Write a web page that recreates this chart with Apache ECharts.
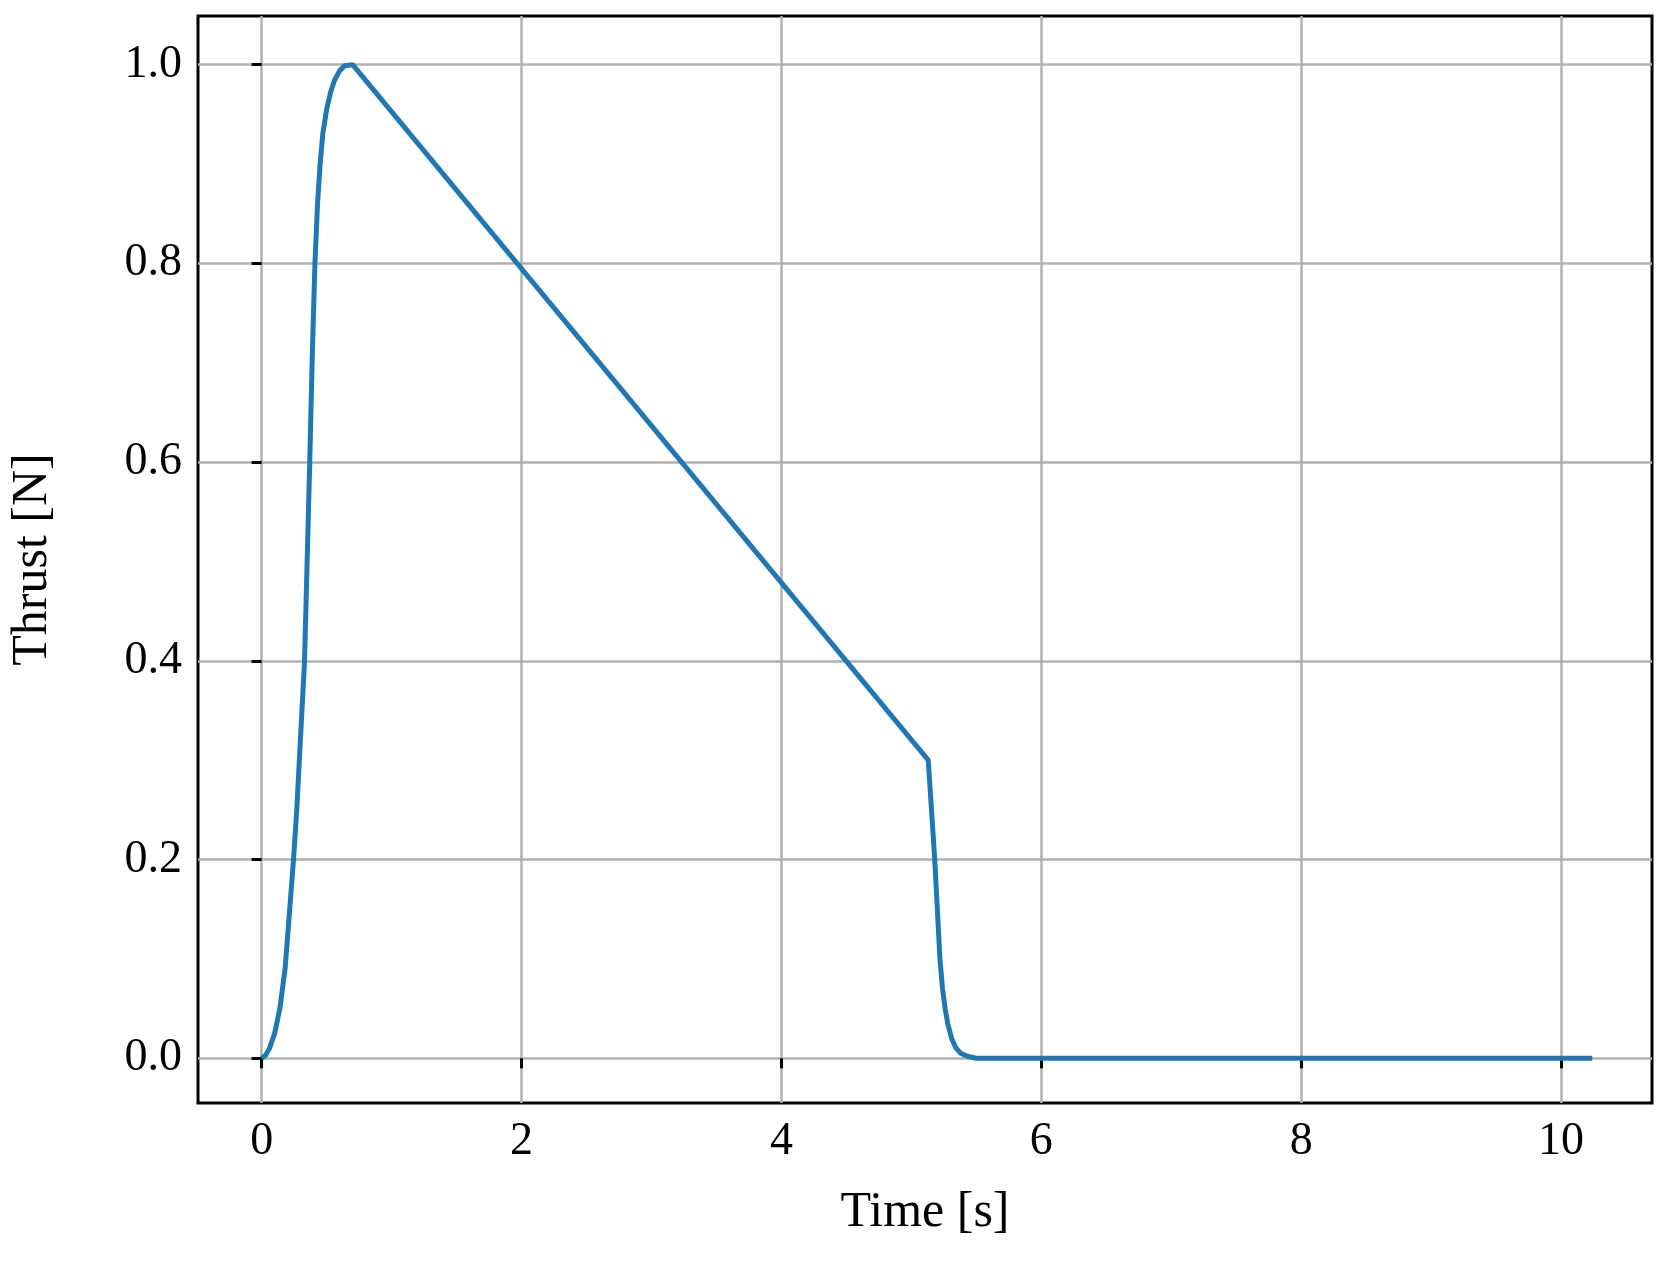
<!DOCTYPE html><html><head><meta charset="utf-8"><script src="https://cdn.jsdelivr.net/npm/echarts@6/dist/echarts.min.js"></script>
<style>html,body{margin:0;background:#fff}#c{width:1671px;height:1262px}</style></head><body><div id="c"></div><script>
const timeS=[0,0.03,0.06,0.1,0.14,0.18,0.21,0.245,0.27,0.29,0.31,0.33,0.35,0.37,0.39,0.41,0.43,0.45,0.47,0.5,0.53,0.56,0.6,0.64,0.7,5.13,5.14,5.16,5.18,5.2,5.22,5.24,5.26,5.28,5.31,5.34,5.38,5.43,5.5,10.24];
const thrustN=[0,0.003,0.01,0.025,0.05,0.09,0.14,0.2,0.25,0.3,0.35,0.4,0.5,0.6,0.71,0.8,0.86,0.9,0.93,0.955,0.972,0.984,0.994,0.999,1.0,0.3,0.28,0.24,0.2,0.15,0.1,0.07,0.05,0.035,0.02,0.011,0.005,0.002,0,0];
const xTicks=[0,2,4,6,8,10];
const yTicks=[0,0.2,0.4,0.6,0.8,1.0];
const ch=echarts.init(document.getElementById('c'));
const font='Liberation Serif';
const tick={show:true,inside:false,length:10,lineStyle:{color:'#000',width:3}};
ch.setOption({animation:false,
grid:{left:191,right:19,top:16,bottom:159,show:true,borderColor:'#000',borderWidth:3,backgroundColor:'transparent'},
xAxis:{type:'value',min:-0.49,max:10.7,name:'Time [s]',nameLocation:'middle',nameGap:85,
 nameTextStyle:{fontFamily:font,fontSize:50,color:'#000'},
 axisLine:{show:false},axisTick:Object.assign({customValues:xTicks},tick),
 axisLabel:{fontFamily:font,fontSize:46,color:'#000',margin:16,customValues:xTicks,showMinLabel:true,showMaxLabel:true},
 splitLine:{show:true,lineStyle:{color:'#b0b0b0',width:2.5}}},
yAxis:{type:'value',min:-0.045,max:1.049,name:'Thrust [N]',nameLocation:'middle',nameGap:140,nameRotate:90,
 nameTextStyle:{fontFamily:font,fontSize:50,color:'#000'},
 axisLine:{show:false},axisTick:Object.assign({customValues:yTicks},tick),
 axisLabel:{fontFamily:font,fontSize:46,color:'#000',margin:16,customValues:yTicks,showMinLabel:true,showMaxLabel:true,formatter:v=>v.toFixed(1)},
 splitLine:{show:true,lineStyle:{color:'#b0b0b0',width:2.5}}},
series:[{type:'line',data:timeS.map((t,i)=>[t,thrustN[i]]),smooth:false,showSymbol:false,lineStyle:{color:'#1f77b4',width:5}}]
});
</script></body></html>
